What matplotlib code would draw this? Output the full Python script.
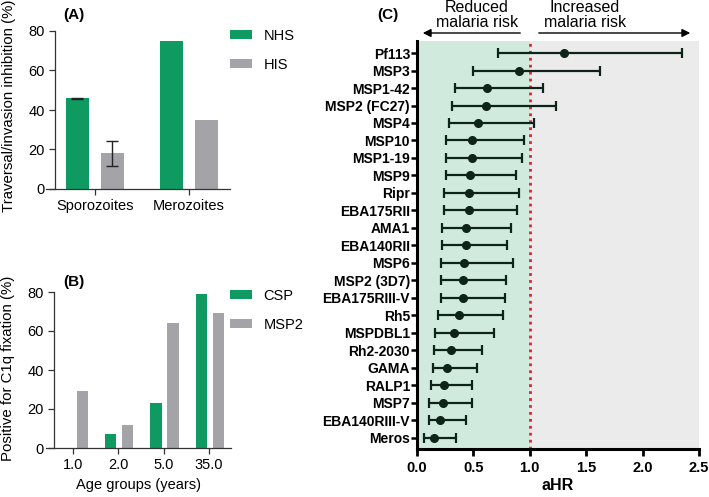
import numpy as np
import matplotlib.pyplot as plt
import matplotlib

matplotlib.rc('font', family='Liberation Sans', size=10)

# panel A
a_groups = ["Sporozoites", "Merozoites"]
a_nhs = [46, 75]
a_his = [18, 35]
# only the sporozoite bars carry error bars
a_nhs_err = 0.3
a_his_err = 6.5

# panel B
b_ages = ["1.0", "2.0", "5.0", "35.0"]
b_csp = [0, 7, 23, 79]
b_msp2 = [29, 12, 64, 69]

# panel C
c_names = ["Pf113", "MSP3", "MSP1-42", "MSP2 (FC27)", "MSP4", "MSP10", "MSP1-19",
           "MSP9", "Ripr", "EBA175RII", "AMA1", "EBA140RII", "MSP6", "MSP2 (3D7)",
           "EBA175RIII-V", "Rh5", "MSPDBL1", "Rh2-2030", "GAMA", "RALP1", "MSP7",
           "EBA140RIII-V", "Meros"]
c_hr = [1.30, 0.90, 0.62, 0.61, 0.54, 0.49, 0.49, 0.47, 0.46, 0.46, 0.43, 0.43,
        0.42, 0.41, 0.41, 0.37, 0.33, 0.30, 0.27, 0.24, 0.23, 0.20, 0.15]
c_lo = [0.72, 0.50, 0.34, 0.31, 0.28, 0.26, 0.26, 0.26, 0.24, 0.24, 0.22, 0.22,
        0.21, 0.21, 0.21, 0.19, 0.16, 0.15, 0.14, 0.12, 0.11, 0.11, 0.06]
c_hi = [2.35, 1.62, 1.12, 1.23, 1.04, 0.95, 0.93, 0.88, 0.90, 0.89, 0.83, 0.80,
        0.85, 0.79, 0.78, 0.76, 0.68, 0.58, 0.53, 0.49, 0.49, 0.43, 0.35]

GREEN = '#0f9a61'
GREY = '#a4a4a8'
W, H = 709, 497


def px_axes(fig, left, top, right, bottom):
    return fig.add_axes([left / W, 1 - bottom / H, (right - left) / W, (bottom - top) / H])


def style_bar_axes(ax, spine_pos):
    for s in ['top', 'right']:
        ax.spines[s].set_visible(False)
    ax.spines['left'].set_position(('axes', spine_pos))
    for s in ['left', 'bottom']:
        ax.spines[s].set_linewidth(0.9)
        ax.spines[s].set_color('#333333')
    ax.tick_params(length=4, width=0.9, color='#333333', labelsize=10.5)
    ax.set_ylim(0, 80)
    ax.set_yticks([0, 20, 40, 60, 80])


def px_legend(ax, left, top):
    ax.legend(loc='upper left', bbox_to_anchor=(left / W, 1 - top / H),
              bbox_transform=fig.transFigure, frameon=False, borderpad=0,
              borderaxespad=0, handlelength=1.5, handleheight=0.55,
              handletextpad=0.8, labelspacing=1.0, fontsize=10.5)


fig = plt.figure(figsize=(W / 100, H / 100), dpi=100)

# ---- (A)
axA = px_axes(fig, 46, 31, 230, 189)
x = np.arange(len(a_groups))
axA.bar(x - 0.186, a_nhs, 0.245, color=GREEN, label='NHS')
axA.bar(x + 0.186, a_his, 0.245, color=GREY, label='HIS')
axA.errorbar([x[0] - 0.186], [a_nhs[0]], yerr=a_nhs_err, fmt='none', ecolor='#222222', capsize=4, lw=1)
axA.errorbar([x[0] + 0.186], [a_his[0]], yerr=a_his_err, fmt='none', ecolor='#222222', capsize=4, lw=1)
axA.set_xlim(-0.521, 1.436)
axA.set_xticks(x)
axA.set_xticklabels(a_groups)
style_bar_axes(axA, (55 - 46) / 184)
axA.set_ylabel('Traversal/invasion inhibition (%)', fontsize=10.8)
axA.yaxis.set_label_coords(-0.165, 0.53)
px_legend(axA, 230, 29)
fig.text(63 / W, 1 - 15 / H, '(A)', fontsize=11, fontweight='bold', va='center')

# ---- (B)
axB = px_axes(fig, 46, 292, 231, 448)
x = np.arange(len(b_ages))
axB.bar(x - 0.165, b_csp, 0.25, color=GREEN, label='CSP')
axB.bar(x + 0.21, b_msp2, 0.25, color=GREY, label='MSP2')
axB.set_xlim(-0.596, 3.488)
axB.set_xticks(x)
axB.set_xticklabels(b_ages)
style_bar_axes(axB, (54 - 46) / 185)
axB.set_ylabel('Positive for C1q fixation (%)', fontsize=10.8)
axB.yaxis.set_label_coords(-0.165, 0.51)
axB.set_xlabel('Age groups (years)', fontsize=10.5)
px_legend(axB, 230, 289)
fig.text(63 / W, 1 - 282 / H, '(B)', fontsize=11, fontweight='bold', va='center')

# ---- (C)
axC = px_axes(fig, 417, 41, 699, 449)
y = np.arange(len(c_names))
axC.axvspan(0, 1.0, color='#d0eadd', zorder=0, lw=0)
axC.axvspan(1.0, 2.5, color='#ebebeb', zorder=0, lw=0)
axC.axvline(1.0, color='#e8202a', ls=(0, (1, 1.5)), lw=2, zorder=1)
hr = np.array(c_hr)
err = [hr - np.array(c_lo), np.array(c_hi) - hr]
axC.errorbar(hr, y, xerr=err, fmt='o', color='#0e2418', ms=5.5, capsize=3.6,
             elinewidth=1.6, capthick=1.6, zorder=3)
axC.set_xlim(0, 2.5)
axC.set_ylim(len(c_names) - 0.35, -0.69)
axC.set_yticks(y)
axC.set_yticklabels(c_names, fontweight='bold', fontsize=10)
axC.set_xticks([0, 0.5, 1.0, 1.5, 2.0, 2.5])
axC.set_xticklabels(['0.0', '0.5', '1.0', '1.5', '2.0', '2.5'], fontweight='bold', fontsize=10.5)
for s in ['top', 'right']:
    axC.spines[s].set_visible(False)
for s in ['left', 'bottom']:
    axC.spines[s].set_linewidth(2.2)
axC.tick_params(axis='y', length=4, width=1.8, pad=1)
axC.tick_params(axis='x', length=5, width=2)
axC.set_xlabel('aHR', fontweight='bold', fontsize=11.5, labelpad=2)
fig.text(388 / W, 1 - 15 / H, '(C)', fontsize=11, fontweight='bold', va='center', ha='center')

fig.text(477 / W, 1 - 15 / H, 'Reduced\nmalaria risk', ha='center', va='center',
         fontsize=11.5, linespacing=1.0)
fig.text(585 / W, 1 - 15 / H, 'Increased\nmalaria risk', ha='center', va='center',
         fontsize=11.5, linespacing=1.0)
fig.add_artist(matplotlib.patches.FancyArrowPatch(
    (523 / W, 1 - 33 / H), (420 / W, 1 - 33 / H), transform=fig.transFigure,
    arrowstyle='-|>', mutation_scale=12, color='black', lw=1))
fig.add_artist(matplotlib.patches.FancyArrowPatch(
    (536 / W, 1 - 33 / H), (693 / W, 1 - 33 / H), transform=fig.transFigure,
    arrowstyle='-|>', mutation_scale=12, color='black', lw=1))

fig.savefig('out.png', dpi=100)
